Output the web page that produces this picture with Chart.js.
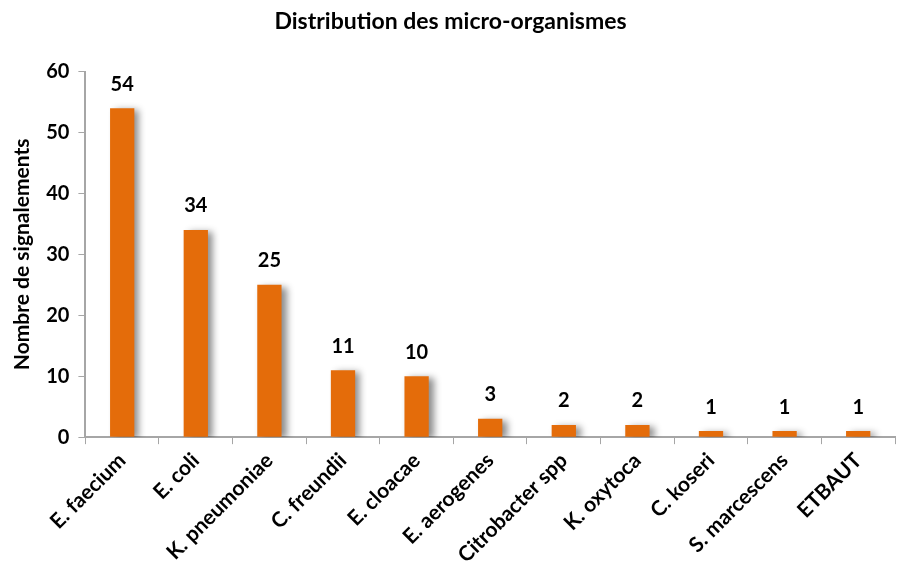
<!DOCTYPE html>
<html>
<head>
<meta charset="utf-8">
<script src="https://cdn.jsdelivr.net/npm/chart.js@4"></script>
<style>
  html, body { margin: 0; padding: 0; background: #fff; }
  #wrap { width: 897px; height: 576px; }
</style>
</head>
<body>
<div id="wrap"><canvas id="chart"></canvas></div>
<script>
const categories = ['E. faecium', 'E. coli', 'K. pneumoniae', 'C. freundii', 'E. cloacae', 'E. aerogenes', 'Citrobacter spp', 'K. oxytoca', 'C. koseri', 'S. marcescens', 'ETBAUT'];
const signalements = [54, 34, 25, 11, 10, 3, 2, 2, 1, 1, 1];
const yTicks = [0, 10, 20, 30, 40, 50, 60];

const font = 'Lato, "Open Sans", sans-serif';

// ombre portée sous les barres
const barShadow = {
    id: 'barShadow',
    beforeDatasetsDraw(chart) {
        const ctx = chart.ctx;
        ctx.save();
        ctx.shadowColor = 'rgba(0,0,0,0.45)';
        ctx.shadowBlur = 7;
        ctx.shadowOffsetX = 5;
        ctx.shadowOffsetY = 2;
    },
    afterDatasetsDraw(chart) {
        chart.ctx.restore();
    }
};

// valeurs au-dessus des barres
const valueLabels = {
    id: 'valueLabels',
    afterDraw(chart) {
        const ctx = chart.ctx;
        const meta = chart.getDatasetMeta(0);
        ctx.save();
        ctx.font = 'bold 20px ' + font;
        ctx.fillStyle = '#000';
        ctx.textAlign = 'center';
        ctx.textBaseline = 'bottom';
        meta.data.forEach((bar, i) => {
            ctx.fillText(String(signalements[i]), bar.x, bar.y - 14);
        });
        ctx.restore();
    }
};

new Chart(document.getElementById('chart').getContext('2d'), {
    type: 'bar',
    data: {
        labels: categories,
        datasets: [{
            data: signalements,
            backgroundColor: '#E46C0A',
            borderWidth: 0,
            barPercentage: 0.33,
            categoryPercentage: 1.0
        }]
    },
    options: {
        responsive: true,
        maintainAspectRatio: false,
        animation: false,
        layout: { padding: { top: 0, right: 2, left: 6, bottom: 4 } },
        plugins: {
            legend: { display: false },
            tooltip: { enabled: false },
            title: {
                display: true,
                text: 'Distribution des micro-organismes',
                color: '#000',
                font: { family: font, size: 23, weight: 'bold' },
                padding: { top: 8, bottom: 36 }
            }
        },
        scales: {
            x: {
                offset: true,
                grid: {
                    display: true,
                    offset: true,
                    drawOnChartArea: false,
                    drawTicks: true,
                    tickLength: 7,
                    color: '#a6a6a6'
                },
                border: { color: '#a6a6a6', width: 2 },
                ticks: {
                    color: '#000',
                    font: { family: font, size: 21, weight: 'bold' },
                    minRotation: 45,
                    maxRotation: 45,
                    autoSkip: false,
                    padding: 4
                }
            },
            y: {
                min: 0,
                max: 60,
                afterBuildTicks(axis) {
                    axis.ticks = yTicks.map(v => ({ value: v }));
                },
                grid: {
                    display: true,
                    drawOnChartArea: false,
                    drawTicks: true,
                    tickLength: 7,
                    color: '#a6a6a6'
                },
                border: { color: '#a6a6a6', width: 2 },
                ticks: {
                    color: '#000',
                    font: { family: font, size: 20, weight: 'bold' },
                    padding: 9
                },
                title: {
                    display: true,
                    text: 'Nombre de signalements',
                    color: '#000',
                    font: { family: font, size: 21, weight: 'bold' },
                    padding: { bottom: 2 }
                }
            }
        }
    },
    plugins: [barShadow, valueLabels]
});
</script>
</body>
</html>
